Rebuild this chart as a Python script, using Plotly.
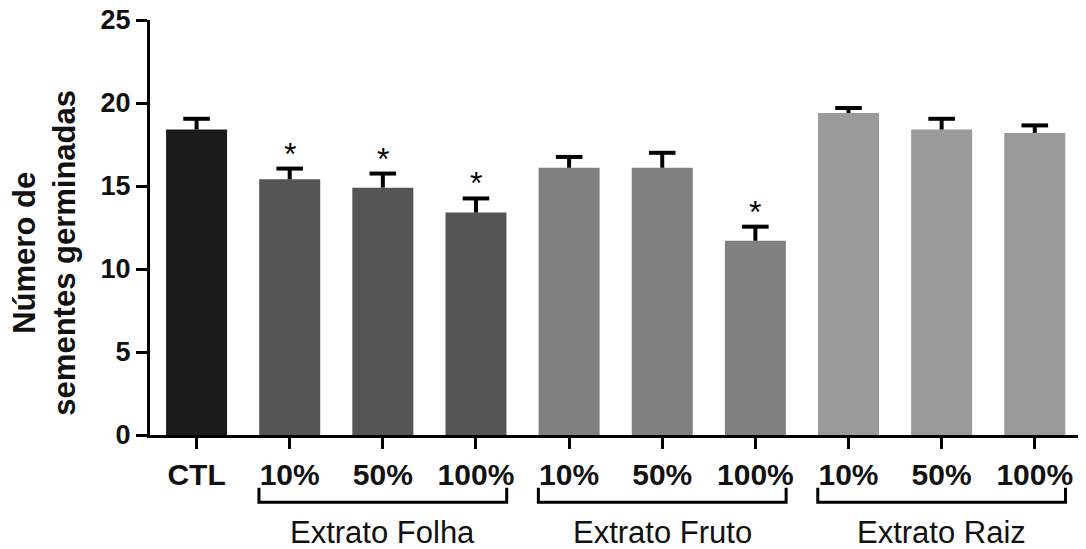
import plotly.graph_objects as go

categories = ["CTL", "F10", "F50", "F100", "R10", "R50", "R100", "Z10", "Z50", "Z100"]
tick_labels = ["CTL", "10%", "50%", "100%", "10%", "50%", "100%", "10%", "50%", "100%"]
values = [18.4, 15.4, 14.9, 13.4, 16.1, 16.1, 11.7, 19.4, 18.4, 18.2]
errors = [0.65, 0.65, 0.85, 0.85, 0.65, 0.9, 0.85, 0.3, 0.65, 0.45]
significant = [False, True, True, True, False, False, True, False, False, False]
bar_colors = ["#1b1b1b", "#555555", "#555555", "#555555",
              "#808080", "#808080", "#808080",
              "#9a9a9a", "#9a9a9a", "#9a9a9a"]
groups = ["Extrato Folha", "Extrato Fruto", "Extrato Raiz"]
group_members = [[1, 2, 3], [4, 5, 6], [7, 8, 9]]
y_title = "Número de<br>sementes germinadas"

x_idx = list(range(len(categories)))
tops = [v + e for v, e in zip(values, errors)]

fig = go.Figure()
fig.add_trace(go.Bar(
    x=x_idx, y=values, width=0.655,
    marker=dict(color=bar_colors, line=dict(width=0)),
    error_y=dict(type="data", array=errors, arrayminus=[0] * len(errors),
                 symmetric=False, thickness=4, width=0, color="black"),
    showlegend=False, hoverinfo="skip",
))
# error caps
fig.add_trace(go.Scatter(
    x=x_idx, y=tops, mode="markers",
    marker=dict(symbol="line-ew", size=19, line=dict(width=4, color="black")),
    showlegend=False, hoverinfo="skip", cliponaxis=False,
))

font_fam = "Liberation Sans, Arial, sans-serif"

annotations = []
for i, (t, s) in enumerate(zip(tops, significant)):
    if s:
        annotations.append(dict(x=i, y=t, xref="x", yref="y", text="*",
                                showarrow=False, yanchor="bottom", yshift=-5,
                                font=dict(family=font_fam, size=32, color="black")))

shapes = []
for name, mem in zip(groups, group_members):
    x0 = mem[0] - 0.33
    x1 = mem[-1] + 0.33
    shapes.append(dict(type="path", xref="x", yref="paper",
                       path=f"M {x0},-0.127 L {x0},-0.162 L {x1},-0.162 L {x1},-0.127",
                       line=dict(color="black", width=3)))
    annotations.append(dict(x=(mem[0] + mem[-1]) / 2, y=-0.235, xref="x", yref="paper",
                            text=name, showarrow=False, yanchor="middle",
                            font=dict(family=font_fam, size=31, color="#111111")))

annotations.append(dict(x=-0.113, y=0.44, xref="paper", yref="paper", text=y_title,
                        textangle=-90, showarrow=False, xanchor="center", yanchor="middle",
                        font=dict(family=font_fam, size=31, color="#111111", weight="bold")))

fig.update_layout(
    width=1086, height=549,
    margin=dict(l=142, r=8, t=12, b=122, autoexpand=False),
    plot_bgcolor="white", paper_bgcolor="white",
    shapes=shapes, annotations=annotations,
    xaxis=dict(
        range=[-0.5, 9.55], tickmode="array", tickvals=x_idx, ticktext=tick_labels,
        showline=True, linecolor="black", linewidth=3,
        ticks="outside", ticklen=11, tickwidth=3, tickcolor="black",
        tickfont=dict(family=font_fam, size=30, color="#111111", weight="bold"),
        showgrid=False, zeroline=False, fixedrange=True, ticklabeloverflow="allow",
        automargin=False,
    ),
    yaxis=dict(
        range=[0, 25], tickvals=[0, 5, 10, 15, 20, 25],
        showline=True, linecolor="black", linewidth=3,
        ticks="outside", ticklen=11, tickwidth=3, tickcolor="black",
        tickfont=dict(family=font_fam, size=27, color="#111111", weight="bold"),
        showgrid=False, zeroline=False, ticklabeloverflow="allow",
        automargin=False,
    ),
)

fig.write_html("out.html")
